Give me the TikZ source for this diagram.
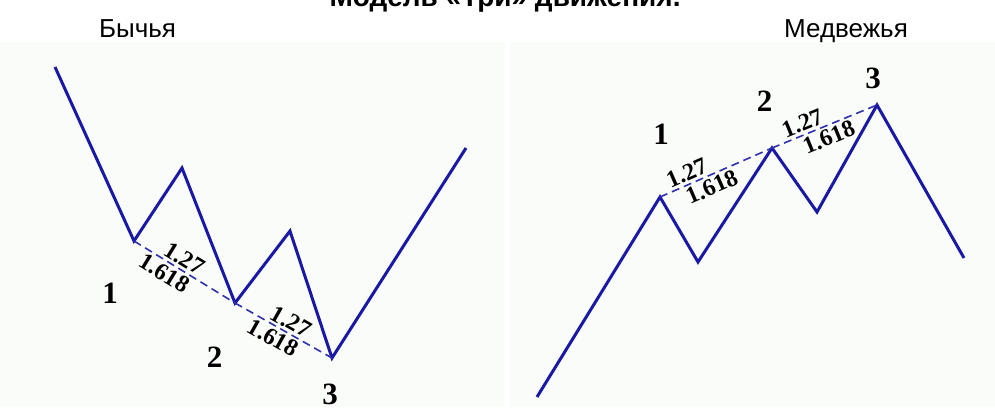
\documentclass[tikz,border=0pt]{standalone}
\usepackage{fontspec}
\setmainfont{Liberation Serif}
\setsansfont{Liberation Sans}
\usetikzlibrary{positioning}
\definecolor{wavenavy}{RGB}{25,25,165}
\definecolor{panelwhite}{RGB}{250,252,250}
\tikzset{
  panel/.style={
    fill=panelwhite,
    draw=none
  },
  wave/.style={
    line width=3pt,
    wavenavy,
    line join=miter
  },
  fibo/.style={
    line width=1.6pt,
    wavenavy!90,
    dash pattern=on 8pt off 5pt
  },
  ratio/.style={
    font=\fontsize{24}{24}\selectfont\bfseries,
    text=black,
    sloped,
    inner sep=2.5pt
  },
  pivot/.style={
    font=\fontsize{31}{31}\selectfont\bfseries,
    inner sep=0pt
  },
  header/.style={
    font=\sffamily\fontsize{26}{26}\selectfont,
    inner sep=0pt,
    anchor=base
  }
}

\begin{document}
\begin{tikzpicture}[x=1pt,y=-1pt]
\useasboundingbox (0,0) rectangle (995,407);
\clip (0,0) rectangle (995,407);
\fill[white] (0,0) rectangle (995,407);
\fill[panel] (0,42) rectangle (505,407);
\fill[panel] (510,42) rectangle (995,407);

\node[header,font=\sffamily\bfseries\fontsize{28}{28}\selectfont] (title) at (505,6.5) {Модель «Три» движения.};
\node[header] (bull) at (137.5,37) {Бычья};
\node[header] (bear) at (846,37) {Медвежья};

\coordinate (b0) at (55,67);
\coordinate (b1) at (134,241);
\coordinate (b1a) at (182,168);
\coordinate (b2) at (235,303);
\coordinate (b2a) at (290,231);
\coordinate (b3) at (332,358);
\coordinate (b4) at (466,148);
\draw[wave] (b0) -- (b1) -- (b1a) -- (b2) -- (b2a) -- (b3) -- (b4);
\draw[fibo] (b1) -- node[ratio,above,pos=.44]{1.27} node[ratio,below,pos=.36]{1.618} (b2);
\draw[fibo] (b2) -- node[ratio,above,pos=.52]{1.27} node[ratio,below,pos=.45]{1.618} (b3);
\node[pivot] (bl1) at (110,293) {1};
\node[pivot] (bl2) at (214.5,357) {2};
\node[pivot] (bl3) at (330,394) {3};

\coordinate (r0) at (537,397);
\coordinate (r1) at (660,197);
\coordinate (r1a) at (698,262);
\coordinate (r2) at (772,148);
\coordinate (r2a) at (817,212);
\coordinate (r3) at (877,105);
\coordinate (r4) at (964,258);
\draw[wave] (r0) -- (r1) -- (r1a) -- (r2) -- (r2a) -- (r3) -- (r4);
\draw[fibo] (r1) -- node[ratio,above,pos=.28]{1.27} node[ratio,below,pos=.42]{1.618} (r2);
\draw[fibo] (r2) -- node[ratio,above,pos=.33]{1.27} node[ratio,below,pos=.5]{1.618} (r3);
\node[pivot] (br1) at (661,134) {1};
\node[pivot] (br2) at (764.5,101) {2};
\node[pivot] (br3) at (873,78) {3};
\end{tikzpicture}
\end{document}
